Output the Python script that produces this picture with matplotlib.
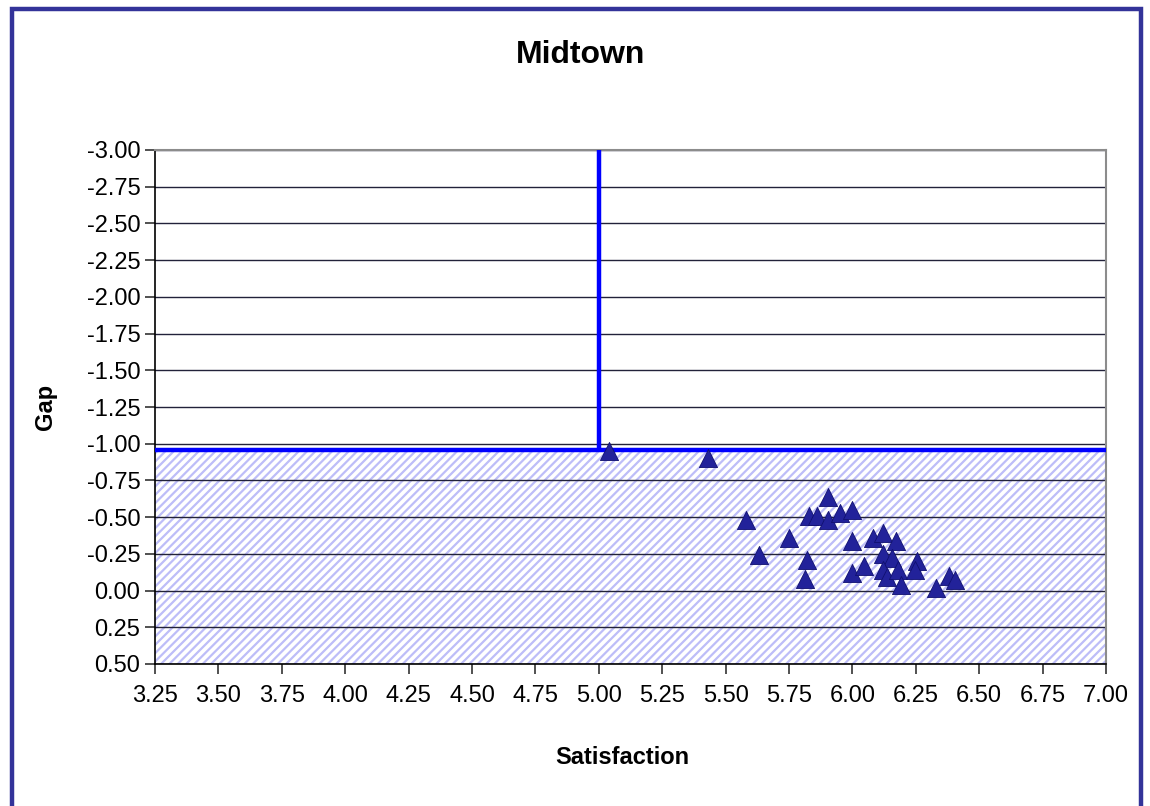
import matplotlib
matplotlib.use("Agg")
import matplotlib.pyplot as plt
from matplotlib.patches import Rectangle

plt.rcParams['font.family'] = ['Liberation Sans', 'DejaVu Sans']
plt.rcParams['hatch.linewidth'] = 1.6
plt.rcParams['hatch.color'] = '#BDBDF8'

title = "Midtown"
x_label = "Satisfaction"
y_label = "Gap"

satisfaction = [5.04, 5.43, 5.58, 5.63, 5.75, 5.82, 5.815, 5.83, 5.86, 5.905,
                5.905, 5.95, 6.00, 6.00, 6.00, 6.045, 6.08, 6.12, 6.17, 6.12,
                6.155, 6.12, 6.135, 6.18, 6.19, 6.255, 6.245, 6.33, 6.38, 6.405]
gap = [-0.95, -0.90, -0.48, -0.24, -0.36, -0.21, -0.08, -0.51, -0.51, -0.64,
       -0.48, -0.53, -0.55, -0.34, -0.12, -0.17, -0.36, -0.39, -0.34, -0.25,
       -0.22, -0.14, -0.09, -0.14, -0.04, -0.20, -0.14, -0.02, -0.10, -0.07]

x_ticks = [3.25, 3.50, 3.75, 4.00, 4.25, 4.50, 4.75, 5.00, 5.25, 5.50, 5.75,
           6.00, 6.25, 6.50, 6.75, 7.00]
y_ticks = [-3.00, -2.75, -2.50, -2.25, -2.00, -1.75, -1.50, -1.25, -1.00,
           -0.75, -0.50, -0.25, 0.00, 0.25, 0.50]

sat_threshold = 5.00
gap_threshold = -0.96

fig = plt.figure(figsize=(11.5, 8.06), dpi=100)
ax = fig.add_axes([155/1150, 1 - 664/806, (1106 - 155)/1150, (664 - 150)/806])

xmin, xmax = x_ticks[0], x_ticks[-1]
ymin, ymax = y_ticks[0], y_ticks[-1]

# hatched acceptable region
ax.fill_between([xmin, xmax], gap_threshold, ymax, facecolor='white',
                edgecolor='#BDBDF8', hatch='////', linewidth=0, zorder=1)

# threshold lines
ax.plot([xmin, xmax], [gap_threshold, gap_threshold], color='#0000FF', lw=3.2,
        solid_capstyle='butt', zorder=4, clip_on=False)
ax.plot([sat_threshold, sat_threshold], [ymin, gap_threshold], color='#0000FF',
        lw=3.2, solid_capstyle='butt', zorder=4)

ax.scatter(satisfaction, gap, marker='^', s=170, color='#22229A',
           edgecolors='#101070', linewidths=0.6, zorder=5)

ax.set_xlim(xmin, xmax)
ax.set_ylim(ymax, ymin)
ax.set_xticks(x_ticks)
ax.set_yticks(y_ticks)
ax.set_xticklabels([f"{v:.2f}" for v in x_ticks])
ax.set_yticklabels([f"{v:.2f}" if abs(v) > 1e-9 else "0.00" for v in y_ticks])
ax.tick_params(axis='both', labelsize=17, direction='out', length=7, width=1.2,
               color='#333333')
ax.tick_params(axis='x', pad=8)
ax.yaxis.grid(True, color='#22223A', lw=1.0)
ax.xaxis.grid(False)

for s in ['top', 'right']:
    ax.spines[s].set_color('#8C8C8C')
    ax.spines[s].set_linewidth(1.5)
for s in ['left', 'bottom']:
    ax.spines[s].set_color('black')
    ax.spines[s].set_linewidth(1.2)

fig.text(581/1150, 1 - 55/806, title, ha='center', va='center',
         fontsize=23, fontweight='bold')
fig.text(622/1150, 1 - 757/806, x_label, ha='center', va='center',
         fontsize=17, fontweight='bold')
fig.text(45/1150, 1 - 407/806, y_label, ha='center', va='center',
         fontsize=17, fontweight='bold', rotation=90)

fig.patches.append(Rectangle((12/1150, -0.02), (1141 - 12)/1150, 1.02 - 9/806,
                             transform=fig.transFigure, fill=False,
                             edgecolor='#333399', linewidth=3.2))

fig.savefig("out.png", dpi=100)
